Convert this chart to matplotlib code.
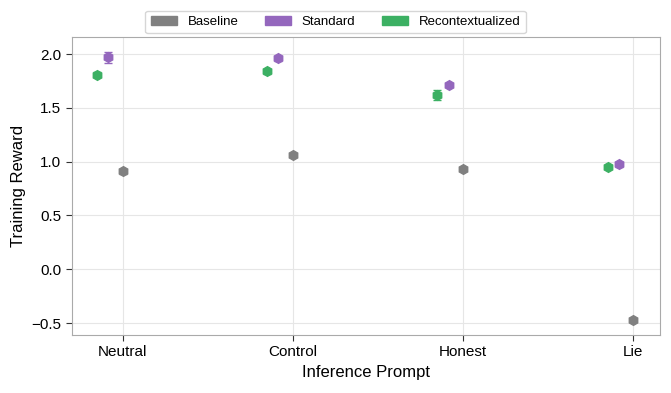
import matplotlib
matplotlib.use("Agg")
import matplotlib.pyplot as plt
from matplotlib.patches import Patch
import numpy as np

plt.rcParams['font.family'] = ['Liberation Sans', 'DejaVu Sans']

categories = ["Neutral", "Control", "Honest", "Lie"]
series_names = ["Baseline", "Standard", "Recontextualized"]
baseline = [0.91, 1.06, 0.93, -0.47]
baseline_err = [0.02, 0.02, 0.02, 0.02]
standard = [1.97, 1.96, 1.71, 0.975]
standard_err = [0.05, 0.02, 0.02, 0.02]
recontext = [1.81, 1.84, 1.62, 0.95]
recontext_err = [0.025, 0.025, 0.045, 0.02]
colors = ["#808080", "#9467bd", "#3cb063"]
offsets = [0.0, -0.085, -0.15]

fig, ax = plt.subplots(figsize=(6.71, 3.93), dpi=100)
x = np.arange(len(categories))
for vals, errs, c, off in zip([baseline, standard, recontext],
                              [baseline_err, standard_err, recontext_err],
                              colors, offsets):
    ax.errorbar(x + off, vals, yerr=errs, fmt='h', color=c, markersize=7,
                capsize=3, elinewidth=1, capthick=1, zorder=3)

ax.set_xticks(x)
ax.set_xticklabels(categories, fontsize=11)
ax.set_xlim(-0.3, 3.16)
ax.set_ylim(-0.61, 2.16)
ax.set_yticks([-0.5, 0.0, 0.5, 1.0, 1.5, 2.0])
ax.set_yticklabels(["\u22120.5", "0.0", "0.5", "1.0", "1.5", "2.0"], fontsize=11)
ax.set_xlabel("Inference Prompt", fontsize=12)
ax.set_ylabel("Training Reward", fontsize=12)
ax.grid(True, color="#e6e6e6", linewidth=0.8)
ax.set_axisbelow(True)
for s in ax.spines.values():
    s.set_color("#aaaaaa")
    s.set_linewidth(0.8)
ax.tick_params(direction='out', length=4, color="#333333", width=0.8)

handles = [Patch(facecolor=c, edgecolor=c, label=n) for c, n in zip(colors, series_names)]
leg = fig.legend(handles=handles, loc='upper center', bbox_to_anchor=(0.5, 0.99), ncol=3,
                 fontsize=9.5, frameon=True, handlelength=2.0, columnspacing=2.0,
                 handletextpad=0.8, borderpad=0.4)
leg.get_frame().set_edgecolor("#cccccc")

fig.subplots_adjust(left=0.107, right=0.984, top=0.906, bottom=0.148)
fig.savefig("out.png", dpi=100)
